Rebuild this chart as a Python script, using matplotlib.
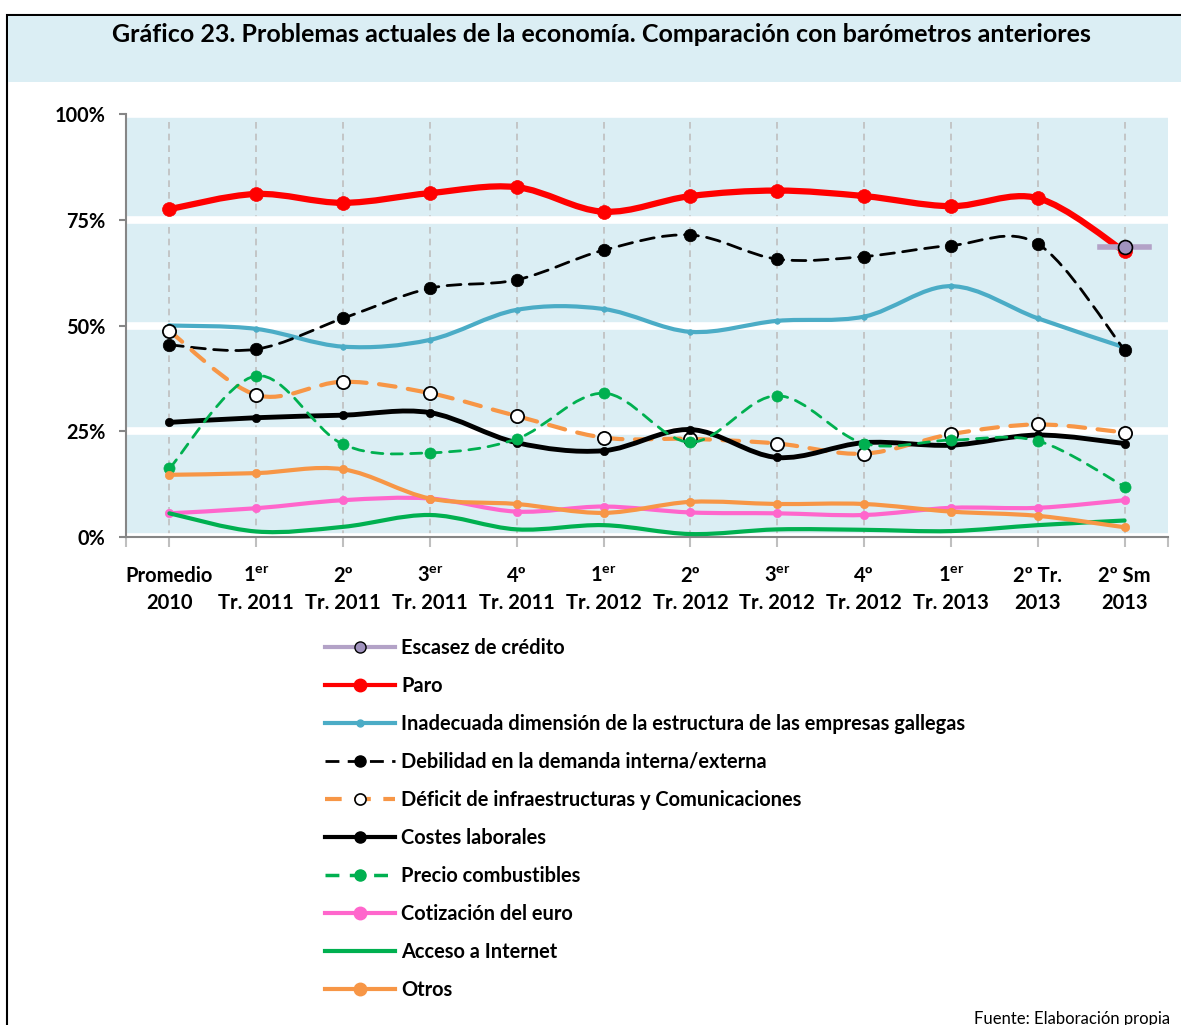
import matplotlib
matplotlib.use("Agg")
import matplotlib.pyplot as plt
from matplotlib.path import Path
from matplotlib.patches import PathPatch, Rectangle
from matplotlib.lines import Line2D
import numpy as np

plt.rcParams['font.family'] = ['Lato', 'DejaVu Sans']
plt.rcParams['font.weight'] = 'bold'
plt.rcParams['mathtext.fontset'] = 'custom'
plt.rcParams['mathtext.rm'] = 'Lato:bold'
plt.rcParams['mathtext.it'] = 'Lato:bold'
plt.rcParams['mathtext.bf'] = 'Lato:bold'

# datos (%)
categorias = ["Promedio\n2010", "1$^{er}$\nTr. 2011", "2º\nTr. 2011", "3$^{er}$\nTr. 2011",
              "4º\nTr. 2011", "1$^{er}$\nTr. 2012", "2º\nTr. 2012", "3$^{er}$\nTr. 2012",
              "4º\nTr. 2012", "1$^{er}$\nTr. 2013", "2º Tr.\n2013", "2º Sm\n2013"]
escasez = [68.6]  # solo 2º Sm 2013
paro = [77.5, 81.1, 79.0, 81.3, 82.7, 76.9, 80.6, 81.9, 80.6, 78.2, 80.1, 67.5]
inadecuada = [50.0, 49.2, 45.0, 46.6, 53.7, 53.9, 48.5, 51.1, 52.1, 59.3, 51.7, 44.8]
debilidad = [45.4, 44.4, 51.7, 58.8, 60.8, 67.8, 71.4, 65.7, 66.3, 68.9, 69.3, 44.2]
deficit = [48.7, 33.6, 36.7, 34.0, 28.6, 23.5, 23.2, 22.1, 19.7, 24.3, 26.6, 24.7]
costes = [27.1, 28.2, 28.8, 29.4, 22.3, 20.4, 25.4, 18.8, 22.3, 21.7, 24.1, 22.1]
combustibles = [16.2, 38.1, 21.9, 19.9, 23.2, 34.0, 22.4, 33.4, 22.1, 22.9, 22.7, 11.9]
euro = [5.6, 6.8, 8.7, 9.1, 6.0, 7.2, 5.8, 5.6, 5.2, 6.9, 6.9, 8.7]
internet = [5.6, 1.3, 2.4, 5.2, 1.8, 2.8, 0.7, 1.8, 1.7, 1.4, 2.8, 3.9]
otros = [14.7, 15.1, 16.0, 9.1, 7.8, 5.7, 8.3, 7.8, 7.8, 6.0, 5.0, 2.3]

AZUL_FONDO = '#DBEEF4'


def curva_suave(ax, xs, ys, **kw):
    # linea suavizada tipo Excel (bezier catmull-rom)
    pts = np.column_stack([xs, ys]).astype(float)
    n = len(pts)
    verts = [pts[0]]
    codes = [Path.MOVETO]
    for i in range(n - 1):
        p0 = pts[i - 1] if i > 0 else pts[i]
        p1 = pts[i]
        p2 = pts[i + 1]
        p3 = pts[i + 2] if i + 2 < n else pts[i + 1]
        verts += [p1 + (p2 - p0) / 6, p2 - (p3 - p1) / 6, p2]
        codes += [Path.CURVE4] * 3
    patch = PathPatch(Path(verts, codes), fill=False, capstyle='round', **kw)
    ax.add_patch(patch)


fig = plt.figure(figsize=(11.81, 10.25), dpi=100)
ax = fig.add_axes([126 / 1181, 1 - 537 / 1025, 1042 / 1181, 423 / 1025])

# marco y banda del titulo
fig.patches.append(Rectangle((7 / 1181, -0.1), 1.2, 1 - 15 / 1025 + 0.1, transform=fig.transFigure,
                             fill=False, edgecolor='black', linewidth=1.5, zorder=0))
fig.patches.append(Rectangle((8 / 1181, 1 - 82 / 1025), 1.2, 66 / 1025, transform=fig.transFigure,
                             facecolor=AZUL_FONDO, edgecolor='none', zorder=0))
fig.text(601 / 1181, 1 - 35 / 1025,
         "Gráfico 23. Problemas actuales de la economía. Comparación con barómetros anteriores",
         ha='center', va='center', fontsize=18, fontweight='bold')

x = np.arange(len(categorias))
ult = x[-1:]

series = [
    # (datos, color, lw, estilo, marcador, tam, cara, borde, z)
    (paro, '#FF0000', 4.5, '-', 'o', 10, '#FF0000', '#FF0000', 5),
    (inadecuada, '#4BACC6', 3.0, '-', 'o', 4, '#4BACC6', '#4BACC6', 6),
    (debilidad, 'black', 2.0, (0, (5, 3)), 'o', 9, 'black', 'black', 7),
    (deficit, '#F79646', 3.0, (0, (4, 3)), 'o', 9.5, 'white', 'black', 8),
    (costes, 'black', 3.5, '-', 'o', 6, 'black', 'black', 9),
    (combustibles, '#00B050', 2.0, (0, (4, 3)), 'o', 8, '#00B050', '#00B050', 10),
    (euro, '#FF66CC', 3.0, '-', 'o', 6, '#FF66CC', '#FF66CC', 11),
    (internet, '#00B050', 3.0, '-', None, 0, None, None, 12),
    (otros, '#F79646', 3.0, '-', 'o', 6, '#F79646', '#F79646', 13),
]

for datos, col, lw, ls, mk, ms, cara, borde, z in series:
    curva_suave(ax, x, datos, edgecolor=col, linewidth=lw, linestyle=ls, zorder=z)
    if mk:
        ax.plot(x, datos, linestyle='none', marker=mk, markersize=ms, markerfacecolor=cara,
                markeredgecolor=borde, markeredgewidth=1.3 if borde == 'black' and cara == 'white' else 0.5,
                zorder=z + 0.5)

# escasez de credito: un solo punto
ax.plot([ult[0] - 0.28, ult[0] + 0.28], [escasez[0], escasez[0]], color='#B3A2C7', linewidth=4, zorder=20)
ax.plot(ult, escasez, linestyle='none', marker='o', markersize=10, markerfacecolor='#A193BE',
        markeredgecolor='black', markeredgewidth=1.2, zorder=21)

# ejes
ax.set_facecolor(AZUL_FONDO)
ax.set_xlim(-0.5, len(categorias) - 0.5)
ax.set_ylim(0, 100)
ax.set_yticks([0, 25, 50, 75, 100])
ax.set_yticklabels(['0%', '25%', '50%', '75%', '100%'], fontsize=14.3, fontweight='bold')
ax.set_xticks(x)
ax.set_xticklabels(categorias, fontsize=14.5, fontweight='bold', linespacing=1.45)
ax.set_xticks([-0.5, len(categorias) - 0.5], minor=True)
ax.grid(axis='y', color='white', linewidth=5.5, zorder=0)
ax.grid(axis='x', color='#BFBFBF', linestyle=(0, (4, 3)), linewidth=1.2)
ax.set_axisbelow(True)
for lado in ['top', 'right']:
    ax.spines[lado].set_visible(False)
for lado in ['left', 'bottom']:
    ax.spines[lado].set_color('#868686')
    ax.spines[lado].set_linewidth(1.5)
ax.tick_params(axis='y', length=5, width=1.5, color='#868686', pad=10)
ax.tick_params(axis='x', which='both', length=7, width=1.5, color='#BFBFBF', pad=14)

# leyenda
h = [
    Line2D([], [], color='#B3A2C7', lw=3, marker='o', ms=8, mfc='#A193BE', mec='black', mew=1),
    Line2D([], [], color='#FF0000', lw=3, marker='o', ms=9, mfc='#FF0000', mec='#FF0000'),
    Line2D([], [], color='#4BACC6', lw=3, marker='o', ms=5, mfc='#4BACC6', mec='#4BACC6'),
    Line2D([], [], color='black', lw=2, ls=(0, (5, 3)), marker='o', ms=8, mfc='black', mec='black'),
    Line2D([], [], color='#F79646', lw=3, ls=(0, (4, 3)), marker='o', ms=8, mfc='white', mec='black', mew=1.2),
    Line2D([], [], color='black', lw=3, marker='o', ms=8, mfc='black', mec='black'),
    Line2D([], [], color='#00B050', lw=2.5, ls=(0, (4, 3)), marker='o', ms=8, mfc='#00B050', mec='#00B050'),
    Line2D([], [], color='#FF66CC', lw=3, marker='o', ms=9, mfc='#FF66CC', mec='#FF66CC'),
    Line2D([], [], color='#00B050', lw=3),
    Line2D([], [], color='#F79646', lw=3, marker='o', ms=9, mfc='#F79646', mec='#F79646'),
]
nombres = ["Escasez de crédito", "Paro",
           "Inadecuada dimensión de la estructura de las empresas gallegas",
           "Debilidad en la demanda interna/externa",
           "Déficit de infraestructuras y Comunicaciones",
           "Costes laborales", "Precio combustibles", "Cotización del euro",
           "Acceso a Internet", "Otros"]
fig.legend(h, nombres, loc='upper left', bbox_to_anchor=(325 / 1181, 1 - 638 / 1025),
           frameon=False, prop={'weight': 'bold', 'size': 14.4}, borderpad=0, borderaxespad=0,
           handlelength=3.5, handletextpad=0.3, labelspacing=0.9, numpoints=1)

fig.text(1170 / 1181, 1 - 1011 / 1025, "Fuente: Elaboración propia", ha='right', va='top',
         fontsize=12, fontweight='normal')

fig.savefig("out.png", dpi=100)
